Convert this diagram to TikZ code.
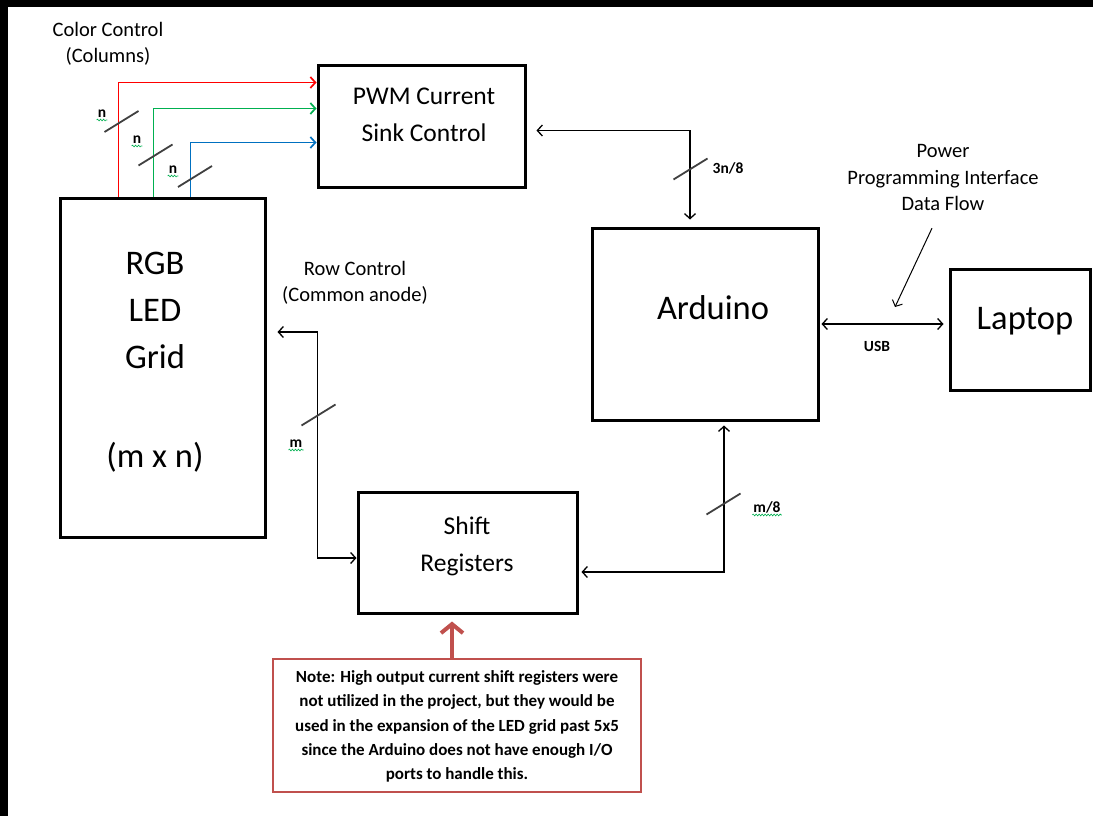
\documentclass[tikz,border=0pt]{standalone}
\usepackage{fontspec}
\setmainfont{Carlito}
\usetikzlibrary{arrows.meta,decorations.pathmorphing}

\definecolor{wirered}{RGB}{255,0,0}
\definecolor{wiregreen}{RGB}{0,176,80}
\definecolor{wireblue}{RGB}{0,112,192}
\definecolor{notered}{RGB}{192,80,77}
\definecolor{slashgray}{RGB}{64,64,64}

% bus width tick at (x,y)
\newcommand{\busslash}[2]{\draw[slash] (#1,#2) +(-17,10.5) -- +(17,-10.5);}

\begin{document}
\begin{tikzpicture}[x=1pt, y=-1pt,
    block/.style={draw, line width=3pt, rectangle},
    wire/.style={line width=1.3pt, >={Straight Barb[length=5pt,width=11pt]}},
    colwire/.style={wire, line width=1.7pt},
    slash/.style={slashgray, line width=1.8pt},
    bigtxt/.style={font=\fontsize{34.5}{47}\selectfont, align=center},
    midtxt/.style={font=\fontsize{25.5}{36.5}\selectfont, align=center},
    smalltxt/.style={font=\fontsize{20.5}{26.5}\selectfont, align=center},
    tagtxt/.style={font=\bfseries\fontsize{15.5}{18}\selectfont, inner sep=1pt},
    squiggle/.style={wiregreen, line width=0.6pt,
      decorate, decoration={snake, amplitude=0.9pt, segment length=3pt}}
  ]

  % page and frame
  \useasboundingbox (0,0) rectangle (1093,816);
  \fill[white] (0,0) rectangle (1093,816);
  \fill[black] (0,0) rectangle (1093,7);
  \fill[black] (0,0) rectangle (8,816);

  % Blocks
  \node[block, minimum width=207pt, minimum height=121pt] (pwm)   at (421.5,126.5) {};
  \node[block, minimum width=205pt, minimum height=339pt] (grid)  at (162.5,367.5) {};
  \node[block, minimum width=226pt, minimum height=192pt] (ard)   at (705,324) {};
  \node[block, minimum width=140pt, minimum height=121pt] (lap)   at (1020,329.5) {};
  \node[block, minimum width=219pt, minimum height=121pt] (shift) at (467.5,552.5) {};
  \node[draw=notered, line width=2.8pt, minimum width=368pt, minimum height=133pt] (note) at (457,725.5) {};

  % Block texts
  \node[midtxt] (pwmtxt)   at (424,115)   {PWM Current\\Sink Control};
  \node[bigtxt] (gridtxt)  at (155,362)   {RGB\\LED\\Grid\\[5pt]\\(m x n)};
  \node[bigtxt] (ardtxt)   at (713,308)   {Arduino};
  \node[bigtxt] (laptxt)   at (1025,321)  {Laptop};
  \node[midtxt] (shifttxt) at (467,546.5) {Shift\\Registers};
  \node[font=\bfseries\fontsize{17}{24.3}\selectfont, align=center] (notetxt) at (457,726.5)
    {Note: High output current shift registers were\\
     not utilized in the project, but they would be\\
     used in the expansion of the LED grid past 5x5\\
     since the Arduino does not have enough I/O\\
     ports to handle this.};

  % Captions
  \node[smalltxt] (colcap) at (108,44)    {Color Control\\(Columns)};
  \node[smalltxt] (rowcap) at (355,283)   {Row Control\\(Common anode)};
  \node[smalltxt] (pwr)    at (943,177.5) {Power\\Programming Interface\\Data Flow};

  % Color control (columns)
  \draw[colwire, ->, wirered]   ([xshift=60pt]grid.north west)  |- ([yshift=-18pt]pwm.north west);
  \draw[colwire, ->, wiregreen] ([xshift=95pt]grid.north west)  |- ([yshift=-44pt]pwm.north west);
  \draw[colwire, ->, wireblue]  ([xshift=132pt]grid.north west) |- ([yshift=-78pt]pwm.north west);

  % PWM <-> Arduino
  \draw[wire, <->, shorten <=10pt, shorten >=7pt] ([yshift=-4pt]pwm.east) -| ([xshift=-15pt]ard.north);

  % Row control
  \draw[wire, <->, shorten <=11pt] ([yshift=35.5pt]grid.east) -| ([xshift=-39pt,yshift=-5.5pt]shift.west)
    -- ([yshift=-5.5pt]shift.west);

  % Shift registers <-> Arduino
  \draw[wire, <->, shorten <=3pt, shorten >=4pt] ([yshift=-19.5pt]shift.east) -| ([xshift=19pt]ard.south);

  % USB link
  \draw[wire, <->, shorten <=2pt, shorten >=5pt] (ard.east) -- (ard.east -| lap.west);
  \coordinate (usbpt) at (895,307);
  \draw[wire, ->, line width=1pt] ([xshift=-11pt,yshift=-14pt]pwr.south) -- (usbpt);

  % Bus widths
  \busslash{121.5}{121.5}
  \busslash{155.5}{155}
  \busslash{195}{176.5}
  \busslash{690.5}{169}
  \busslash{318.5}{415}
  \busslash{723.5}{504}

  \node[tagtxt] (n1)   at (102,114) {n};
  \node[tagtxt] (n2)   at (137,140) {n};
  \node[tagtxt] (n3)   at (173,170) {n};
  \node[tagtxt] (bus3) at (728,168) {3n/8};
  \node[tagtxt] (rowm) at (296,444) {m};
  \node[tagtxt] (ardm) at (767,507) {m/8};
  \node[tagtxt] (usb)  at (877,346) {USB};

  \foreach \lbl in {n1,n2,n3,rowm,ardm}
    \draw[squiggle] ([yshift=-1pt]\lbl.south west) -- ([yshift=-1pt]\lbl.south east);

  % note pointer
  \draw[notered, line width=4pt, -{Straight Barb[length=9pt,width=22pt]}, shorten >=7pt]
    ([xshift=-5pt]note.north) -- ([xshift=-15.5pt]shift.south);

\end{tikzpicture}
\end{document}
